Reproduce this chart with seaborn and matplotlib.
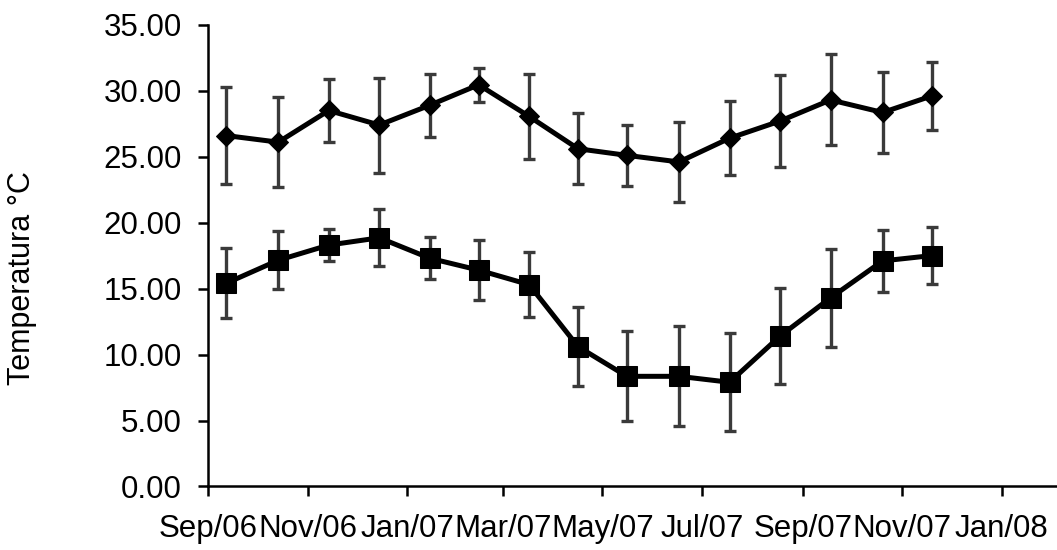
import matplotlib
matplotlib.use("Agg")
import matplotlib.pyplot as plt
import matplotlib.dates as mdates
from matplotlib.ticker import MultipleLocator, FormatStrFormatter
import seaborn as sns
import pandas as pd

# sampling dates (roughly mid-month)
dates = ["2006-09-12", "2006-10-14", "2006-11-14", "2006-12-15", "2007-01-15",
         "2007-02-14", "2007-03-17", "2007-04-16", "2007-05-16", "2007-06-17",
         "2007-07-18", "2007-08-18", "2007-09-18", "2007-10-20", "2007-11-19"]

# upper series (diamonds) and its error
t_max = [26.6, 26.1, 28.5, 27.4, 28.9, 30.45, 28.05, 25.6, 25.1, 24.6,
         26.4, 27.7, 29.3, 28.35, 29.6]
t_max_err = [3.7, 3.4, 2.4, 3.6, 2.4, 1.3, 3.2, 2.7, 2.3, 3.0,
             2.8, 3.5, 3.45, 3.1, 2.55]

# lower series (squares) and its error
t_min = [15.4, 17.15, 18.3, 18.85, 17.3, 16.4, 15.3, 10.6, 8.35, 8.35,
         7.9, 11.4, 14.3, 17.1, 17.5]
t_min_err = [2.65, 2.2, 1.2, 2.15, 1.6, 2.25, 2.45, 3.0, 3.4, 3.8,
             3.7, 3.65, 3.7, 2.35, 2.15]

df = pd.DataFrame({
    "date": pd.to_datetime(dates),
    "tmax": t_max, "tmax_err": t_max_err,
    "tmin": t_min, "tmin_err": t_min_err,
})

sns.set_theme(style="ticks")
plt.rcParams["font.family"] = ["Liberation Sans", "DejaVu Sans"]

fig = plt.figure(figsize=(10.57, 5.5), dpi=100)
ax = fig.add_axes([0.197, 0.1155, 0.803, 0.8395])

for col, mk, ms in [("tmax", "D", 10.5), ("tmin", "s", 14.5)]:
    ax.errorbar(df["date"], df[col], yerr=df[col + "_err"], fmt="none",
                ecolor="#3a3a3a", elinewidth=2.4, capsize=4.5, capthick=2.4, zorder=2)
    sns.lineplot(data=df, x="date", y=col, ax=ax, color="black", lw=3.6,
                 marker=mk, markersize=ms, markeredgecolor="black",
                 errorbar=None, zorder=3)

ax.set_ylim(0, 35)
ax.yaxis.set_major_locator(MultipleLocator(5))
ax.yaxis.set_major_formatter(FormatStrFormatter("%.2f"))

ax.set_xlim(pd.Timestamp("2006-09-01"), pd.Timestamp("2008-02-04"))
ax.xaxis.set_major_locator(mdates.MonthLocator(bymonth=[1, 3, 5, 7, 9, 11]))
ax.xaxis.set_major_formatter(mdates.DateFormatter("%b/%y"))

ax.set_xlabel("")
ax.set_ylabel("Temperatura °C", fontsize=22, color="black")
ax.yaxis.set_label_coords(-0.202, 0.452)

ax.tick_params(axis="both", labelsize=22.5, colors="black", length=7,
               width=1.8, pad=12)
ax.tick_params(axis="x", pad=13)

sns.despine(ax=ax)
for s in ["left", "bottom"]:
    ax.spines[s].set_linewidth(1.8)
    ax.spines[s].set_color("black")

fig.savefig("out.png", dpi=100)
